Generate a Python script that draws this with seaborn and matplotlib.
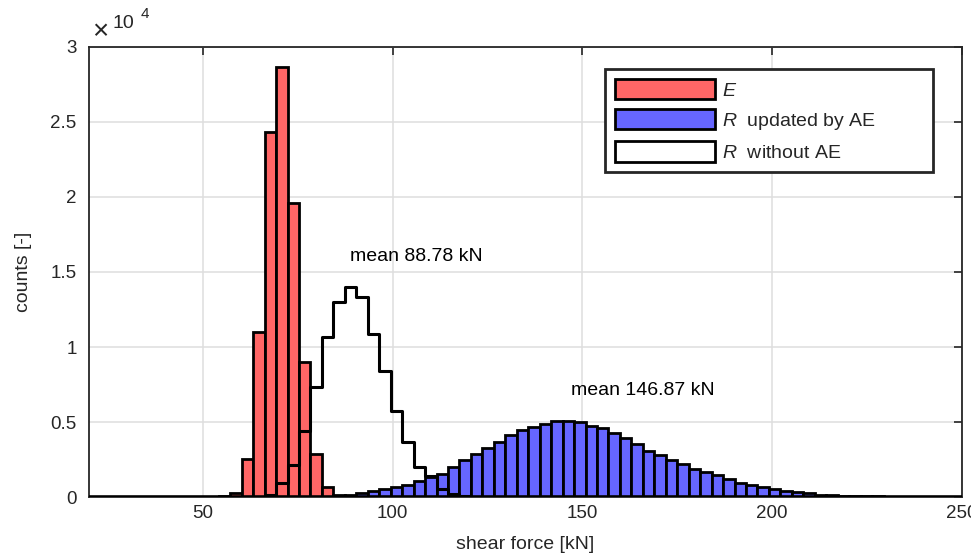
import matplotlib
matplotlib.use("Agg")
import matplotlib.pyplot as plt
from matplotlib.patches import Patch
import numpy as np
import pandas as pd
import seaborn as sns

# common bin grid of all three histograms (kN)
BIN_START = 17.94
BIN_WIDTH = 3.02
N_BINS = 77

# counts per bin, each list starts at the bin index given next to it
E_FIRST = 12
E_COUNTS = [50, 250, 2550, 11000, 24350, 28650, 19600, 8980, 2850, 650, 150, 30]

R_WITHOUT_FIRST = 15
R_WITHOUT_COUNTS = [30, 130, 950, 2130, 4420, 7350, 10690, 13020, 14020, 13310,
                    10840, 8400, 5750, 3650, 2030, 1420, 520, 200, 80, 30]

R_UPDATED_FIRST = 20
R_UPDATED_COUNTS = [20, 50, 100, 160, 300, 400, 560, 670, 780, 1050,
                    1320, 1540, 2010, 2480, 2870, 3290, 3690, 4130, 4470, 4640,
                    4840, 5090, 5040, 5000, 4760, 4580, 4290, 3910, 3510, 3090,
                    2800, 2470, 2170, 1870, 1640, 1470, 1180, 960, 820, 650,
                    550, 420, 310, 250, 150, 110, 80, 60, 45, 35,
                    25, 20, 15, 10, 8, 5, 3]

R_WITHOUT_MEAN = 88.78
R_UPDATED_MEAN = 146.87

LABELS = [r"$\it{E}$", r"$\it{R}$  updated by AE", r"$\it{R}$  without AE"]
X_TICKS = [50, 100, 150, 200, 250]
Y_TICKS = [0, 5000, 10000, 15000, 20000, 25000, 30000]

RED = "#FF6666"
BLUE = "#6666FF"
DARK = "#262626"

EDGES = [BIN_START + BIN_WIDTH * i for i in range(N_BINS + 1)]


def hist_frame(first, counts):
    '''
    Put the counts of one series on the common bin grid
    :param first (int): index of the first bin of the list
    :param counts (list): counts per bin
    :return: data frame with bin centre and weight
    '''
    w = np.zeros(N_BINS)
    w[first:first + len(counts)] = counts
    centres = [(EDGES[i] + EDGES[i + 1]) / 2 for i in range(N_BINS)]
    return pd.DataFrame({"force": centres, "count": w})


sns.set_style("white")
plt.rcParams["font.family"] = ["Liberation Sans", "DejaVu Sans"]
plt.rcParams["mathtext.fontset"] = "custom"
plt.rcParams["mathtext.it"] = "Liberation Sans:italic"
plt.rcParams["mathtext.rm"] = "Liberation Sans"

fig, ax = plt.subplots(figsize=(9.71, 5.58), dpi=100)
fig.subplots_adjust(left=0.0917, right=0.9907, bottom=0.1093, top=0.9158)

sns.histplot(data=hist_frame(R_UPDATED_FIRST, R_UPDATED_COUNTS), x="force", weights="count",
             bins=EDGES, color=BLUE, alpha=1, edgecolor="black", linewidth=2.0, ax=ax)
sns.histplot(data=hist_frame(E_FIRST, E_COUNTS), x="force", weights="count",
             bins=EDGES, color=RED, alpha=1, edgecolor="black", linewidth=2.0, ax=ax)
sns.histplot(data=hist_frame(R_WITHOUT_FIRST, R_WITHOUT_COUNTS), x="force", weights="count",
             bins=EDGES, element="step", fill=False, color="black", linewidth=2.2, ax=ax)
# empty bins leave a thick edge line along the bottom
ax.axhline(0, color="black", linewidth=2.6, zorder=3)

ax.text(R_WITHOUT_MEAN, max(R_WITHOUT_COUNTS) + 2000, f"mean {R_WITHOUT_MEAN:.2f} kN",
        ha="left", va="center", fontsize=14, color="black")
ax.text(R_UPDATED_MEAN, max(R_UPDATED_COUNTS) + 2000, f"mean {R_UPDATED_MEAN:.2f} kN",
        ha="left", va="center", fontsize=14, color="black")

ax.set_xlim(20, 250)
ax.set_ylim(0, 30000)
ax.set_xticks(X_TICKS, [str(t) for t in X_TICKS])
ax.set_yticks(Y_TICKS, [f"{t / 1e4:g}" for t in Y_TICKS])
ax.tick_params(direction="in", top=True, right=True, length=6, width=1.2,
               color=DARK, labelcolor=DARK, labelsize=13.5)
ax.tick_params(axis="x", pad=6)
ax.tick_params(axis="y", pad=9)
ax.grid(True, color="#DEDEDE", linewidth=1.1)
ax.set_axisbelow(True)
for s in ax.spines.values():
    s.set_visible(True)
    s.set_color(DARK)
    s.set_linewidth(1.3)

ax.set_xlabel("shear force [kN]", fontsize=14, color=DARK, labelpad=10)
ax.set_ylabel("counts [-]", fontsize=14, color=DARK, labelpad=13)

# MATLAB style exponent above the y axis
fig.text(100 / 971, 1 - 32 / 558, "\u00d7", fontsize=20, color=DARK, ha="center", va="center")
fig.text(123 / 971, 1 - 23 / 558, "10", fontsize=14, color=DARK, ha="center", va="center")
fig.text(145 / 971, 1 - 14 / 558, "4", fontsize=11, color=DARK, ha="center", va="center")

handles = [Patch(facecolor=RED, edgecolor="black", linewidth=2),
           Patch(facecolor=BLUE, edgecolor="black", linewidth=2),
           Patch(facecolor="white", edgecolor="black", linewidth=2)]
leg = ax.legend(handles, LABELS, loc="upper left", mode="expand",
                bbox_to_anchor=(0.591, 0.5, 0.376, 0.451), borderaxespad=0,
                fontsize=14, handlelength=5.15, handleheight=1.24,
                labelspacing=0.49, borderpad=0.5, handletextpad=0.36,
                fancybox=False, framealpha=1, edgecolor=DARK)
leg.get_frame().set_linewidth(2)

fig.savefig("out.png", dpi=100)
